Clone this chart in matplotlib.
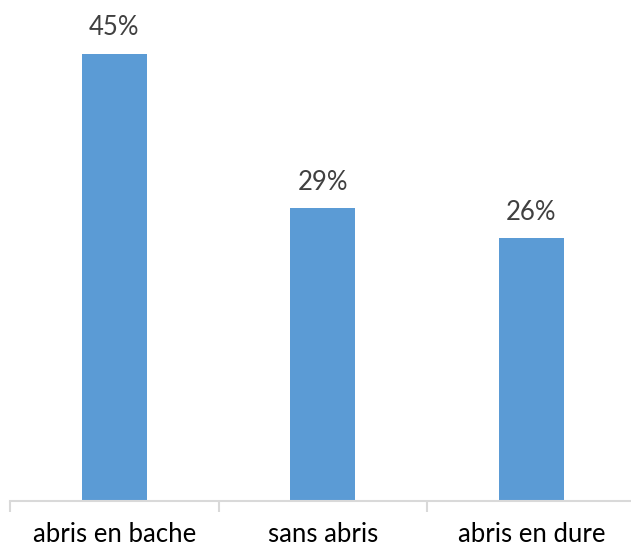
import matplotlib
matplotlib.use("Agg")
import matplotlib.pyplot as plt

categories = ["abris en bache", "sans abris", "abris en dure"]
values = [44.6, 29.2, 26.2]
value_labels = ["45%", "29%", "26%"]

W, H = 631, 548
fig = plt.figure(figsize=(W/100, H/100), dpi=100)
left = 10 / W
right = 635.5 / W
bottom = (H - 501) / H
px_per_unit = 10.03
ax = fig.add_axes([left, bottom, right - left, 50 * px_per_unit / H])

x = list(range(len(categories)))
bars = ax.bar(x, values, width=0.312, color="#5B9BD5", zorder=2)
ax.set_xlim(-0.5, len(categories) - 0.5)
ax.set_ylim(0, 50)

for xi, v, lab in zip(x, values, value_labels):
    ax.annotate(lab, (xi, v), xytext=(0, 9.5), textcoords="offset points",
                ha="center", va="bottom", fontsize=18.5, color="#404040",
                family="Lato")

for s in ["top", "right", "left"]:
    ax.spines[s].set_visible(False)
ax.spines["bottom"].set_color("#D9D9D9")
ax.spines["bottom"].set_linewidth(1.5)
ax.set_yticks([])
ax.set_xticks([-0.5, 0.5, 1.5, 2.5], minor=False)
ax.set_xticklabels([])
ax.tick_params(axis="x", which="major", length=8, width=1.5, color="#D9D9D9")
ax.set_xticks(x, minor=True)
ax.set_xticklabels(categories, minor=True, fontsize=18.5, family="Lato", color="#000000")
ax.tick_params(axis="x", which="minor", length=0, pad=15)

fig.savefig("out.png", dpi=100)
